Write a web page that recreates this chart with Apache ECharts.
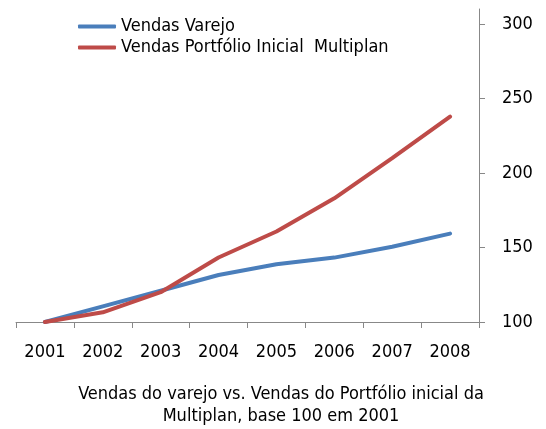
<!DOCTYPE html>
<html><head><meta charset="utf-8">
<script src="https://cdn.jsdelivr.net/npm/echarts@6/dist/echarts.min.js"></script>
<style>html,body{margin:0;padding:0;background:#fff}#c{width:546px;height:429px}</style>
</head><body><div id="c"></div>
<script>
var years = ['2001','2002','2003','2004','2005','2006','2007','2008'];
var varejo = [100, 110.5, 121, 131.5, 138.8, 143.2, 150.5, 159.3];
var multiplan = [100, 106.5, 120, 143.3, 160.7, 183, 210, 237.8];
var yTicks = [100, 150, 200, 250, 300];
var seriesNames = ['Vendas Varejo', 'Vendas Portfólio Inicial  Multiplan'];
var titleText = 'Vendas do varejo vs. Vendas do Portfólio inicial da\nMultiplan, base 100 em 2001';

var font = '"DejaVu Sans Condensed", "DejaVu Sans", sans-serif';
var chart = echarts.init(document.getElementById('c'));
chart.setOption({
  animation: false,
  backgroundColor: '#fff',
  title: {
    text: titleText, left: 276, top: 378, textAlign: 'center',
    textStyle: {fontFamily: font, fontSize: 18, fontWeight: 'normal', color: '#000', lineHeight: 22}
  },
  legend: {
    orient: 'vertical', left: 78, top: 16, padding: 0, itemGap: 0, itemWidth: 38, itemHeight: 4,
    icon: 'roundRect',
    textStyle: {fontFamily: font, fontSize: 18, color: '#000', lineHeight: 21},
    data: seriesNames
  },
  grid: {left: 16, right: 67, top: 9, bottom: 107},
  xAxis: {
    type: 'category', data: years, boundaryGap: true,
    axisLine: {lineStyle: {color: '#888', width: 1}},
    axisTick: {show: true, length: 6, lineStyle: {color: '#888'}},
    axisLabel: {fontFamily: font, fontSize: 18, color: '#000', margin: 21}
  },
  yAxis: {
    type: 'value', position: 'right', min: 100, max: 310,
    axisLine: {show: true, lineStyle: {color: '#888', width: 1}},
    axisTick: {show: true, length: 6, lineStyle: {color: '#888'}, customValues: yTicks},
    axisLabel: {fontFamily: font, fontSize: 18, color: '#000', margin: 23, customValues: yTicks},
    splitLine: {show: false}
  },
  series: [
    {name: seriesNames[0], type: 'line', data: varejo, symbol: 'none',
     lineStyle: {color: '#4a7ebb', width: 4, cap: 'round'}, itemStyle: {color: '#4a7ebb'}},
    {name: seriesNames[1], type: 'line', data: multiplan, symbol: 'none',
     lineStyle: {color: '#be4b48', width: 4, cap: 'round'}, itemStyle: {color: '#be4b48'}}
  ]
});
</script></body></html>
